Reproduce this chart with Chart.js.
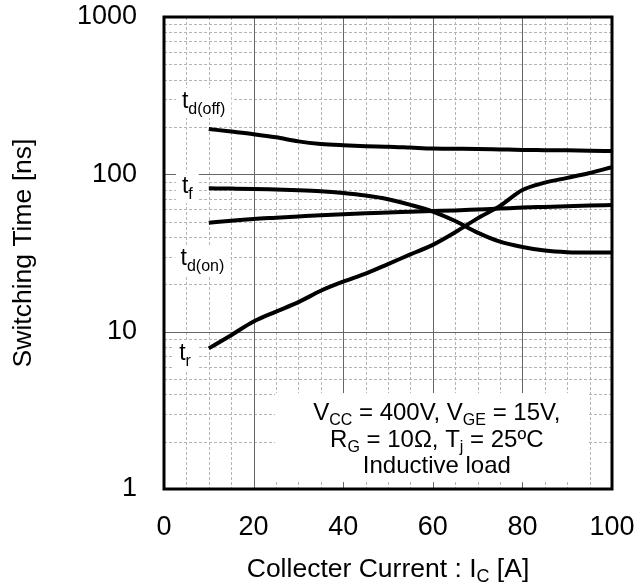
<!DOCTYPE html>
<html><head><meta charset="utf-8">
<script src="https://cdn.jsdelivr.net/npm/chart.js@4.4.0/dist/chart.umd.min.js"></script>
<style>html,body{margin:0;padding:0;background:#fff}#wrap{width:638px;height:588px}</style>
</head><body><div id="wrap"><canvas id="c" width="638" height="588"></canvas></div>
<script>
// ---- data ----
const current = [10,15,20,25,30,35,40,45,50,55,60,65,70,75,80,85,90,95,100];
const tdOff = [194,187,180,172,162,156,153,151,150,148,146,145.5,145,144,143,142.5,142,141,140.5];
const tf    = [81.5,81.2,80.8,80,79.2,78,76,73.3,69.5,64,58,50.5,42.6,37.3,34.5,32.8,32,31.8,31.8];
const tdOn  = [49.2,50.7,52,53,54,55,55.8,56.5,57.3,57.8,58.4,59,59.8,60.6,61.5,62.1,62.7,63.3,63.8];
const tr    = [7.83,9.5,11.6,13.4,15.4,18.2,20.8,23.4,26.9,31,35.6,42.8,52.5,63,79.5,88.5,95,102,111];
const xTickLabels = [0,20,40,60,80,100];
const yTickLabels = [1,10,100,1000];
const curveLabelMain = ['t','t','t','t'];
const curveLabelSub  = ['d(off)','f','d(on)','r'];
const curveLabelX    = [4,4,3.7,3.4];
const curveLabelY    = [264,76,26.5,6.6];
const xTitle = [{t:'Collecter Current : I'},{t:'C',sub:true},{t:' [A]'}];
const yTitle = 'Switching Time [ns]';
const noteLines = [
  [{t:'V'},{t:'CC',sub:true},{t:' = 400V, V'},{t:'GE',sub:true},{t:' = 15V,'}],
  [{t:'R'},{t:'G',sub:true},{t:' = 10Ω, T'},{t:'j',sub:true},{t:' = 25ºC'}],
  [{t:'Inductive load'}]
];

const FONT = '"Liberation Sans", Arial, Helvetica, sans-serif';
const MAJOR = '#666666', MINOR = '#b4b4b4';

function measureRich(ctx, segs, size, subSize){
  let w=0; const ws=[];
  segs.forEach(s=>{ctx.font=(s.sub?subSize:size)+'px '+FONT; const m=ctx.measureText(s.t).width; ws.push(m); w+=m;});
  return {w, ws};
}
function drawRich(ctx, segs, x, y, size, subSize, subDy, align){
  const {w, ws} = measureRich(ctx, segs, size, subSize);
  let cx = align==='center' ? x - w/2 : x;
  ctx.textAlign='left'; ctx.textBaseline='alphabetic';
  segs.forEach((s,i)=>{ctx.font=(s.sub?subSize:size)+'px '+FONT; ctx.fillText(s.t, cx, y+(s.sub?subDy:0)); cx+=ws[i];});
  return w;
}

const labelSegs = curveLabelMain.map((m,i)=>[{t:m},{t:curveLabelSub[i],sub:true}]);

const deco = {
  id:'deco',
  beforeDatasetsDraw(chart){
    const {ctx, chartArea:a, scales:{x,y}} = chart;
    ctx.save();
    ctx.lineWidth = 1;
    const line=(x1,y1,x2,y2)=>{ctx.beginPath();ctx.moveTo(x1,y1);ctx.lineTo(x2,y2);ctx.stroke();};
    for(let v=5; v<100; v+=5){
      if(v%20===0) continue;
      const px=Math.round(x.getPixelForValue(v))+0.5;
      ctx.strokeStyle=MINOR; ctx.setLineDash([3,2]); line(px,a.top,px,a.bottom);
    }
    for(const d of [1,10,100]) for(let m=2;m<=9;m++){
      const py=Math.round(y.getPixelForValue(d*m))+0.5;
      ctx.strokeStyle=MINOR; ctx.setLineDash([3,2]); line(a.left,py,a.right,py);
    }
    ctx.setLineDash([]);
    ctx.strokeStyle=MAJOR;
    for(const v of [20,40,60,80]){const px=Math.round(x.getPixelForValue(v))+0.5; line(px,a.top,px,a.bottom);}
    for(const v of [10,100]){const py=Math.round(y.getPixelForValue(v))+0.5; line(a.left,py,a.right,py);}
    ctx.fillStyle='#fff';
    labelSegs.forEach((segs,i)=>{
      const {w}=measureRich(ctx,segs,23,16);
      const lx=x.getPixelForValue(curveLabelX[i]), ly=y.getPixelForValue(curveLabelY[i]);
      ctx.fillRect(lx-6, ly-20, w+12, 30);
    });
    const bx1=x.getPixelForValue(24.8), bx2=x.getPixelForValue(94.6);
    const by1=y.getPixelForValue(4.07), by2=y.getPixelForValue(1.107);
    ctx.fillRect(bx1,by1,bx2-bx1,by2-by1);
    ctx.restore();
  },
  afterDatasetsDraw(chart){
    const {ctx, chartArea:a, scales:{x,y}} = chart;
    ctx.save();
    ctx.strokeStyle='#000'; ctx.lineWidth=3; ctx.setLineDash([]);
    ctx.strokeRect(a.left, a.top, a.right-a.left, a.bottom-a.top);
    ctx.fillStyle='#000';
    labelSegs.forEach((segs,i)=>{
      drawRich(ctx,segs,x.getPixelForValue(curveLabelX[i]),y.getPixelForValue(curveLabelY[i]),23,16,6,'left');
    });
    const cx=x.getPixelForValue(60.9), top=y.getPixelForValue(4.07);
    const noteOff=[27,53.5,80];
    noteLines.forEach((segs,i)=>{
      drawRich(ctx,segs,cx,top+noteOff[i],24,16,5,'center');
    });
    drawRich(ctx,xTitle,(a.left+a.right)/2,577,26.5,18,5,'center');
    ctx.translate(31,(a.top+a.bottom)/2); ctx.rotate(-Math.PI/2);
    ctx.font='26.5px '+FONT; ctx.textAlign='center'; ctx.textBaseline='alphabetic';
    ctx.fillText(yTitle,0,0);
    ctx.restore();
  }
};

const mk=(arr)=>current.map((c,i)=>({x:c,y:arr[i]}));
const ds=(label,arr)=>({label,data:mk(arr),borderColor:'#000',borderWidth:4,pointRadius:0,fill:false,cubicInterpolationMode:'monotone'});
const zeroPad=s=>{s.paddingTop=0;s.paddingBottom=0;s.paddingLeft=0;s.paddingRight=0;};

new Chart(document.getElementById('c'),{
  type:'line',
  data:{datasets:[ds('td(off)',tdOff),ds('tf',tf),ds('td(on)',tdOn),ds('tr',tr)]},
  options:{
    responsive:false, animation:false, devicePixelRatio:1,
    layout:{padding:{left:0,top:17,right:26,bottom:0}},
    plugins:{legend:{display:false},tooltip:{enabled:false}},
    scales:{
      x:{type:'linear',min:0,max:100,
        grid:{display:false,drawTicks:false},border:{display:false},
        ticks:{stepSize:20,autoSkip:false,maxRotation:0,padding:22,color:'#000',font:{family:FONT,size:27},
          callback:v=>xTickLabels.includes(v)?String(v):''},
        afterFit:s=>{s.height=99;zeroPad(s);}},
      y:{type:'logarithmic',min:1,max:1000,
        grid:{display:false,drawTicks:false},border:{display:false},
        ticks:{autoSkip:false,padding:27,color:'#000',font:{family:FONT,size:27},
          callback:v=>yTickLabels.includes(v)?String(v):''},
        afterFit:s=>{s.width=164;zeroPad(s);}}
    }
  },
  plugins:[deco]
});
</script></body></html>
